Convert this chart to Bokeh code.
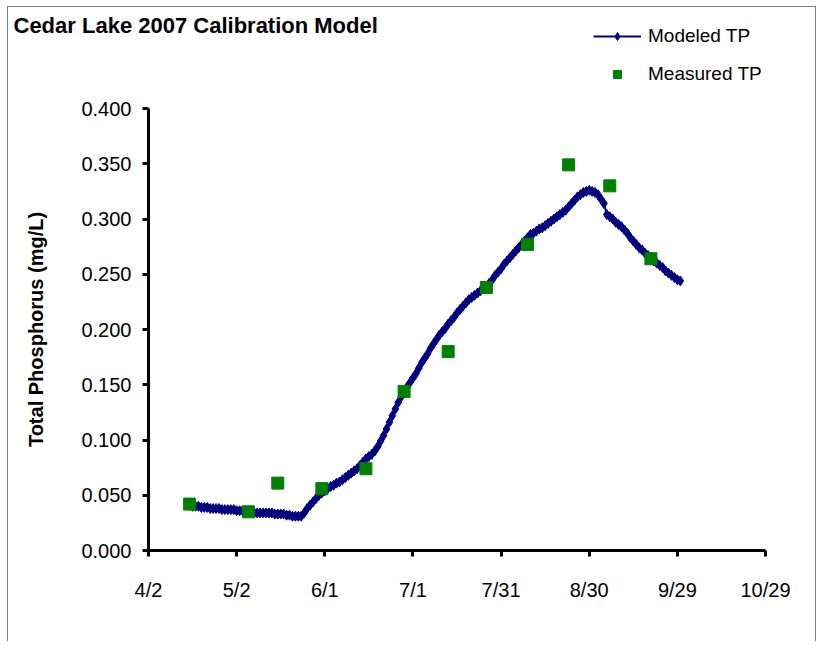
import pandas as pd
from bokeh.plotting import figure
from bokeh.models import (Range1d, FixedTicker, NumeralTickFormatter, Legend,
                          LegendItem, Label)
from bokeh.embed import file_html
from bokeh.resources import INLINE

# ---------------- data ----------------
title_text = "Cedar Lake 2007 Calibration Model"
y_label = "Total Phosphorus (mg/L)"
axis_origin = "2007-04-02"
x_tick_dates = ["2007-04-02", "2007-05-02", "2007-06-01", "2007-07-01",
                "2007-07-31", "2007-08-30", "2007-09-29", "2007-10-29"]
x_tick_labels = ["4/2", "5/2", "6/1", "7/1", "7/31", "8/30", "9/29", "10/29"]
y_ticks = [0.0, 0.05, 0.10, 0.15, 0.20, 0.25, 0.30, 0.35, 0.40]

measured_dates = ["2007-04-16", "2007-05-06", "2007-05-16", "2007-05-31",
                  "2007-06-15", "2007-06-28", "2007-07-13", "2007-07-26",
                  "2007-08-09", "2007-08-23", "2007-09-06", "2007-09-20"]
measured_tp = [0.042, 0.035, 0.061, 0.056, 0.074, 0.144, 0.180, 0.238,
               0.277, 0.349, 0.330, 0.264]

model_start = "2007-04-16"
modeled_tp = [
    0.041, 0.040, 0.040, 0.040, 0.039, 0.039, 0.039, 0.038, 0.038, 0.038,
    0.038, 0.037, 0.037, 0.037, 0.037, 0.037, 0.036, 0.036, 0.036, 0.035,
    0.035, 0.035, 0.034, 0.034, 0.034, 0.034, 0.034, 0.034, 0.034, 0.033,
    0.033, 0.033, 0.033, 0.032, 0.032, 0.031, 0.031, 0.031, 0.031, 0.034,
    0.038, 0.041, 0.044, 0.047, 0.050, 0.052, 0.054, 0.056, 0.058, 0.059,
    0.061, 0.062, 0.064, 0.066, 0.068, 0.070, 0.072, 0.074, 0.077, 0.080,
    0.083, 0.085, 0.087, 0.090, 0.094, 0.099, 0.104, 0.110, 0.116, 0.122,
    0.128, 0.134, 0.139, 0.144, 0.148, 0.152, 0.156, 0.160, 0.165, 0.170,
    0.174, 0.178, 0.183, 0.187, 0.191, 0.195, 0.198, 0.201, 0.205, 0.208,
    0.211, 0.215, 0.218, 0.221, 0.224, 0.227, 0.229, 0.231, 0.233, 0.235,
    0.237, 0.239, 0.242, 0.245, 0.249, 0.252, 0.255, 0.259, 0.262, 0.265,
    0.268, 0.271, 0.274, 0.277, 0.280, 0.283, 0.286, 0.287, 0.289, 0.291,
    0.292, 0.294, 0.296, 0.298, 0.300, 0.302, 0.304, 0.306, 0.308, 0.311,
    0.314, 0.317, 0.320, 0.322, 0.324, 0.325, 0.326, 0.325, 0.324, 0.322,
    0.318, 0.314, 0.304, 0.302, 0.300, 0.297, 0.295, 0.293, 0.290, 0.287,
    0.283, 0.280, 0.277, 0.274, 0.272, 0.269, 0.267, 0.265, 0.262, 0.260,
    0.258, 0.256, 0.253, 0.251, 0.249, 0.247, 0.245, 0.244,
]

# ---------------- derived positions (days since axis origin) ----------------
origin = pd.Timestamp(axis_origin)
def days(ds):
    return [(pd.Timestamp(d) - origin).days for d in ds]

model_dates = pd.date_range(model_start, periods=len(modeled_tp), freq="D")
model_x = [(d - origin).days for d in model_dates]
meas_x = days(measured_dates)
tick_x = days(x_tick_dates)

FONT = "Liberation Sans"
NAVY = "#000080"
GREEN = "#008000"
GRAY = "#7f7f7f"

# canvas / plot-area geometry in pixels
W, H = 819, 641
PL, PR, PT, PB = 148, 765, 108, 550   # plot area edges on the canvas

x0, x1 = tick_x[0], tick_x[-1]
y0, y1 = y_ticks[0], y_ticks[-1]
kx = (x1 - x0) / (PR - PL)
ky = (y1 - y0) / (PB - PT)
x_range = Range1d(x0 - PL * kx, x1 + (W - PR) * kx)
y_range = Range1d(y0 - (H - PB) * ky, y1 + PT * ky)

p = figure(width=W, height=H, output_backend="svg", toolbar_location=None,
           x_range=x_range, y_range=y_range, title_location=None,
           min_border_left=0, min_border_right=0,
           min_border_top=0, min_border_bottom=0)
g = f"linear-gradient({GRAY},{GRAY})"
p.styles = {"background": f"{g} 7px 6px / 1px 700px no-repeat, "
                          f"{g} 7px 6px / 809px 1px no-repeat, "
                          f"{g} 815px 6px / 1px 700px no-repeat, #ffffff"}
p.outline_line_color = None
p.xgrid.visible = False
p.ygrid.visible = False
p.background_fill_color = None
p.border_fill_color = None

# title
p.add_layout(Label(x=13, y=H - 24.5, x_units="screen", y_units="screen",
                   text=title_text, text_font=FONT, text_font_size="22px",
                   text_font_style="bold", text_color="black",
                   text_baseline="middle", text_align="left"))

# axes drawn at the data origin, limited to the data extent
for ax in (p.xaxis[0], p.yaxis[0]):
    ax.fixed_location = 0
    ax.axis_line_width = 3
    ax.axis_line_color = "black"
    ax.major_tick_line_width = 3
    ax.major_tick_line_color = "black"
    ax.major_tick_out = 6
    ax.major_tick_in = 0
    ax.minor_tick_line_color = None
    ax.major_label_text_font = FONT
    ax.major_label_text_font_size = "20px"
    ax.major_label_text_color = "black"

p.xaxis.bounds = (x0, x1)
p.xaxis.ticker = FixedTicker(ticks=tick_x)
p.xaxis.major_label_overrides = {t: lab for t, lab in zip(tick_x, x_tick_labels)}
p.xaxis.major_label_standoff = 22

p.yaxis.bounds = (y0, y1)
p.yaxis.ticker = FixedTicker(ticks=y_ticks)
p.yaxis.formatter = NumeralTickFormatter(format="0.000")
p.yaxis.major_label_standoff = 11
p.yaxis.axis_label = y_label
p.yaxis.axis_label_text_font = FONT
p.yaxis.axis_label_text_font_size = "20px"
p.yaxis.axis_label_text_font_style = "bold"
p.yaxis.axis_label_text_color = "black"
p.yaxis.axis_label_standoff = 31

# glyphs
ln = p.line(model_x, modeled_tp, line_color=NAVY, line_width=2)
dm = p.scatter(model_x, modeled_tp, marker="diamond", size=10,
               fill_color=NAVY, line_color=NAVY)
sq = p.scatter(meas_x, measured_tp, marker="square", size=12,
               fill_color=GREEN, line_color=GREEN)

legend = Legend(items=[LegendItem(label="Modeled TP", renderers=[ln, dm]),
                       LegendItem(label="Measured TP", renderers=[sq])],
                location=(593, H - 85), orientation="vertical",
                border_line_color=None, background_fill_alpha=0,
                padding=0, margin=0, spacing=16, glyph_width=48, glyph_height=20,
                label_standoff=7, label_height=20,
                label_text_font=FONT, label_text_font_size="19px",
                label_text_color="black")
p.add_layout(legend)

open("out.html", "w").write(file_html(p, INLINE))
